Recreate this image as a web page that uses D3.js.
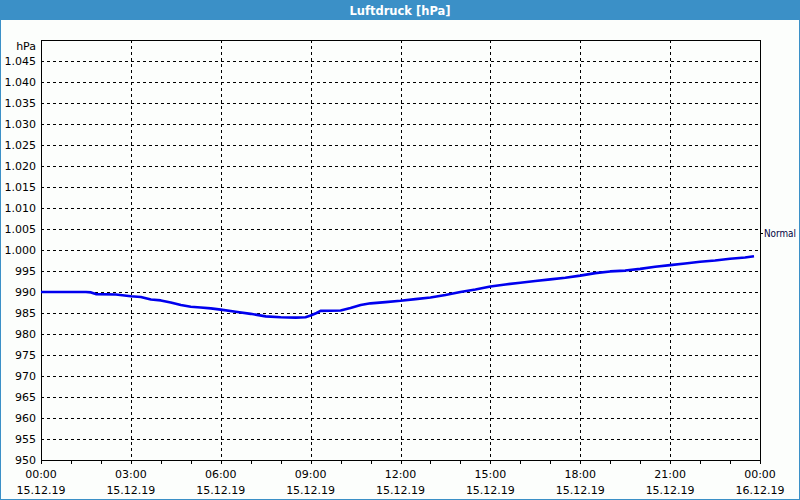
<!DOCTYPE html>
<html><head><meta charset="utf-8">
<script src="https://cdn.jsdelivr.net/npm/d3@7"></script>
<style>
html,body{margin:0;padding:0;background:#fcfefc;}
svg{display:block;font-family:Tahoma,"DejaVu Sans",Verdana,sans-serif;}
</style></head>
<body>
<svg id="c" width="800" height="500"></svg>
<script>
const title = "Luftdruck [hPa]";
const unitLabel = "hPa";
const seriesName = "Normal";
const normalValue = 1004;
const yTicks = d3.range(950, 1046, 5);
const xTickHours = [0, 3, 6, 9, 12, 15, 18, 21, 24];
const xTimeLabels = ["00:00","03:00","06:00","09:00","12:00","15:00","18:00","21:00","00:00"];
const xDateLabels = ["15.12.19","15.12.19","15.12.19","15.12.19","15.12.19","15.12.19","15.12.19","15.12.19","16.12.19"];
const hours = [0,0.5,1,1.5,1.67,1.83,2.5,3,3.33,3.67,4,4.33,4.67,5,5.33,5.67,6,6.5,7,7.5,8,8.5,8.83,9,9.2,9.33,10,10.33,10.67,11,11.5,12,12.5,13,13.5,14,14.5,15,15.5,16,16.5,17,17.5,18,18.5,19,19.5,20,20.5,21,21.5,22,22.5,23,23.5,23.8];
const pressure = [990,990,990,990,989.9,989.5,989.4,989.0,988.8,988.2,988.0,987.5,986.9,986.5,986.3,986.1,985.8,985.3,984.8,984.2,984.0,983.9,984.0,984.4,985.0,985.5,985.6,986.2,986.9,987.3,987.6,987.9,988.3,988.7,989.3,990.0,990.6,991.3,991.8,992.2,992.6,993.0,993.4,993.9,994.5,994.9,995.1,995.5,996.0,996.4,996.8,997.2,997.5,997.9,998.2,998.5];

const svg = d3.select("#c");
const W = 800, H = 500;
const blue = "#3b90c7";
const L = 41, R = 760, T = 40, B = 460;

svg.append("rect").attr("x",0).attr("y",0).attr("width",W).attr("height",H).attr("fill","#fcfefc");
svg.append("rect").attr("x",0.5).attr("y",0.5).attr("width",W-1).attr("height",H-1).attr("fill","none").attr("stroke",blue).attr("stroke-width",1);
svg.append("rect").attr("x",0).attr("y",0).attr("width",W).attr("height",20).attr("fill",blue);
svg.append("text").attr("x",W/2).attr("y",14.5).attr("text-anchor","middle").attr("fill","#fff")
  .attr("font-weight","bold").attr("font-size","11.5px").text(title);

const x = d3.scaleLinear().domain([0,24]).range([L,R]);
const y = d3.scaleLinear().domain([950,1050]).range([B,T]);

const fmt = v => v >= 1000 ? d3.format(".3f")(v/1000) : String(v);

const g = svg.append("g").attr("shape-rendering","crispEdges");
g.selectAll("line.hg").data(yTicks.filter(v=>v>950)).join("line")
  .attr("x1",L).attr("x2",R).attr("y1",d=>Math.round(y(d))+0.5).attr("y2",d=>Math.round(y(d))+0.5)
  .attr("stroke","#000").attr("stroke-dasharray","3,3");
g.selectAll("line.vg").data(xTickHours.filter(h=>h>0&&h<24)).join("line")
  .attr("y1",T).attr("y2",B).attr("x1",d=>Math.round(x(d))+0.5).attr("x2",d=>Math.round(x(d))+0.5)
  .attr("stroke","#000").attr("stroke-dasharray","3,3");

svg.append("g").selectAll("text").data(yTicks).join("text")
  .attr("x",36).attr("y",d=>y(d)+4).attr("text-anchor","end").attr("font-size","11px").attr("fill","#000")
  .text(d=>fmt(d));
svg.append("text").attr("x",36).attr("y",50).attr("text-anchor","end").attr("font-size","11px").text(unitLabel);

g.selectAll("line.mt").data(d3.range(0,25,1)).join("line")
  .attr("x1",d=>Math.round(x(d))+0.5).attr("x2",d=>Math.round(x(d))+0.5).attr("y1",B).attr("y2",B+4)
  .attr("stroke","#000");

const xl = svg.append("g");
xl.selectAll("text.t").data(xTickHours).join("text")
  .attr("x",(d)=>x(d)).attr("y",478).attr("text-anchor","middle").attr("font-size","11px").text((d,i)=>xTimeLabels[i]);
xl.selectAll("text.d").data(xTickHours).join("text")
  .attr("x",(d)=>x(d)).attr("y",494).attr("text-anchor","middle").attr("font-size","11px").text((d,i)=>xDateLabels[i]);

g.append("rect").attr("x",L+0.5).attr("y",T+0.5).attr("width",R-L).attr("height",B-T)
  .attr("fill","none").attr("stroke","#000");

g.append("line").attr("x1",R).attr("x2",R+3).attr("y1",Math.round(y(normalValue))+0.5).attr("y2",Math.round(y(normalValue))+0.5).attr("stroke","#000");
svg.append("text").attr("x",764).attr("y",y(normalValue)+4).attr("font-size","10px").attr("fill","#000040")
  .attr("textLength",32).attr("lengthAdjust","spacingAndGlyphs").text(seriesName);

const line = d3.line().x((d,i)=>x(hours[i])).y(d=>y(d)).curve(d3.curveLinear);
svg.append("path").datum(pressure).attr("d",line).attr("fill","none")
  .attr("stroke","#0000ee").attr("stroke-width",2.6).attr("stroke-linejoin","round");
</script>
</body></html>
